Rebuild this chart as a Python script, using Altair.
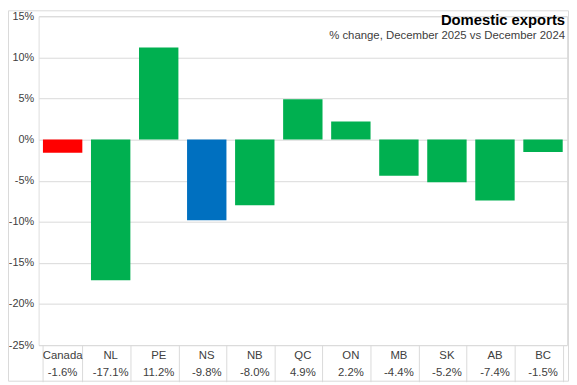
import altair as alt
import pandas as pd

categories = ["Canada", "NL", "PE", "NS", "NB", "QC", "ON", "MB", "SK", "AB", "BC"]
values = [-1.6, -17.1, 11.2, -9.8, -8.0, 4.9, 2.2, -4.4, -5.2, -7.4, -1.5]
bar_colors = ["#ff0000", "#00b050", "#00b050", "#0070c0", "#00b050", "#00b050",
              "#00b050", "#00b050", "#00b050", "#00b050", "#00b050"]
y_ticks = [-25, -20, -15, -10, -5, 0, 5, 10, 15]
title_text = "Domestic exports"
subtitle_text = "% change, December  2025 vs December  2024"

W, H = 535, 333
LP, TP = 31, 6
FONT = "Liberation Sans"
GRID = "#d9d9d9"

df = pd.DataFrame({
    "cat": categories,
    "value": values,
    "vlabel": [f"{v:.1f}%" for v in values],
})

xenc = alt.X("cat:N", sort=categories, title=None,
             scale=alt.Scale(paddingInner=0.18, paddingOuter=0.09),
             axis=alt.Axis(labels=False, domain=False, ticks=True, tickBand="extent",
                           tickSize=37, tickColor=GRID, tickWidth=1, grid=False))

base = alt.Chart(df)

bars = base.mark_bar().encode(
    x=xenc,
    y=alt.Y("value:Q", title=None,
            scale=alt.Scale(domain=[-25, 15], nice=False),
            axis=alt.Axis(values=y_ticks, labelExpr="datum.value + '%'",
                          domain=False, ticks=False, grid=True, gridColor=GRID,
                          labelPadding=5, labelFont=FONT, labelFontSize=11,
                          labelColor="#404040")),
    color=alt.Color("cat:N", scale=alt.Scale(domain=categories, range=bar_colors), legend=None),
)

names = base.mark_text(font=FONT, fontSize=11.5, color="#404040", baseline="middle").encode(
    x=alt.X("cat:N", sort=categories), y=alt.value(H + 11), text="cat:N")

vals = base.mark_text(font=FONT, fontSize=11.5, color="#404040", baseline="middle").encode(
    x=alt.X("cat:N", sort=categories), y=alt.value(H + 28), text="vlabel:N")

one = alt.Data(values=[{"a": 1}])
title = alt.Chart(one).mark_text(font=FONT, fontSize=15, fontWeight="bold", color="#000000",
                                 align="right", baseline="middle").encode(
    x=alt.value(W - 2), y=alt.value(4), text=alt.value(title_text))
subtitle = alt.Chart(one).mark_text(font=FONT, fontSize=11.5, color="#404040",
                                    align="right", baseline="middle").encode(
    x=alt.value(W - 2), y=alt.value(20), text=alt.value(subtitle_text))

frame = alt.Chart(one).mark_rect(fill=None, stroke=GRID, strokeWidth=1).encode(
    x=alt.value(-LP + 0.5), x2=alt.value(W + 1.5), y=alt.value(-TP + 0.5), y2=alt.value(H + 36.5))

chart = alt.layer(bars, names, vals, title, subtitle, frame).properties(
    width=W, height=H,
    autosize=alt.AutoSizeParams(type="none"),
    padding={"left": LP, "top": TP, "right": 2, "bottom": 37},
).configure_view(stroke=None).configure(background="white")

chart.save("out.html", embed_options={"renderer": "svg", "actions": False})
